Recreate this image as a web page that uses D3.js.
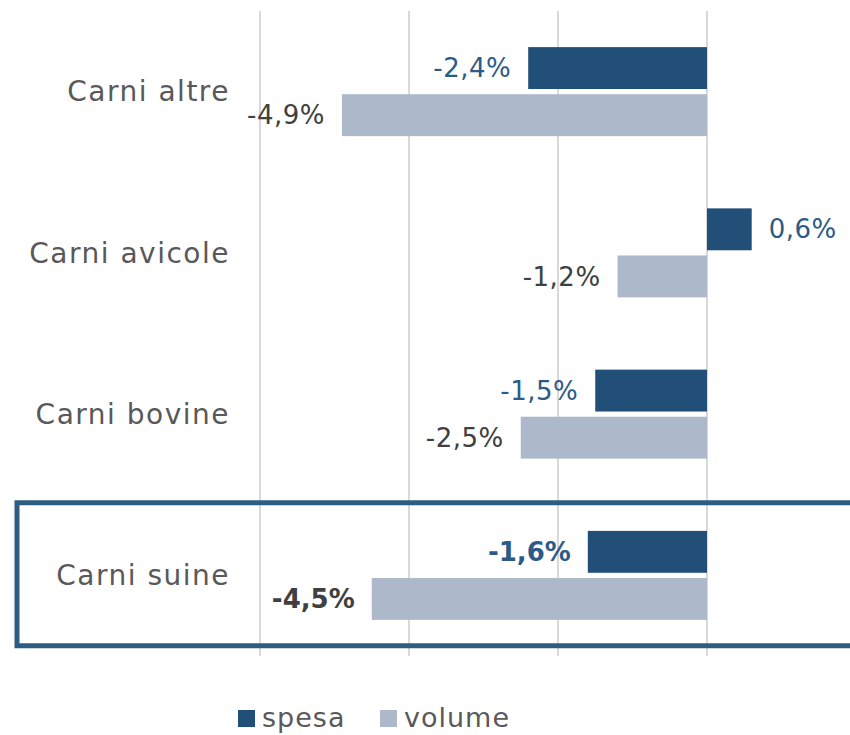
<!DOCTYPE html>
<html>
<head>
<meta charset="utf-8">
<script src="https://cdn.jsdelivr.net/npm/d3@7"></script>
<style>
  body { margin: 0; background: #fff; }
  text { font-family: "DejaVu Sans", sans-serif; }
</style>
</head>
<body>
<svg id="chart"></svg>
<script>
// Data
const categories = ["Carni altre", "Carni avicole", "Carni bovine", "Carni suine"];
const spesa = [-2.4, 0.6, -1.5, -1.6];
const volume = [-4.9, -1.2, -2.5, -4.5];
const seriesNames = ["spesa", "volume"];
const gridTicks = [-6, -4, -2, 0];
const highlighted = "Carni suine";

const colors = { spesa: "#214F78", volume: "#ADB9CA" };
const labelColors = { spesa: "#2D5B88", volume: "#404040" };

const width = 850, height = 735;
const margin = { top: 11, bottom: 79, left: 260 };

const svg = d3.select("#chart")
    .attr("width", width)
    .attr("height", height);

// Scales
const x = d3.scaleLinear()
    .domain([-6, 2])
    .range([margin.left, 856]);

const y = d3.scaleBand()
    .domain(categories)
    .range([margin.top, height - margin.bottom]);

const inner = d3.scaleBand()
    .domain(seriesNames)
    .range([0, 89])
    .paddingInner(0.11);

const offset = (y.bandwidth() - 89) / 2;

// Gridlines
svg.append("g")
   .selectAll("line")
   .data(gridTicks)
   .join("line")
   .attr("x1", d => x(d)).attr("x2", d => x(d))
   .attr("y1", margin.top).attr("y2", height - margin.bottom)
   .attr("stroke", "#D9D9D9")
   .attr("stroke-width", 2);

// Category labels
svg.append("g")
   .selectAll("text")
   .data(categories)
   .join("text")
   .attr("x", 230)
   .attr("y", d => y(d) + y.bandwidth() / 2)
   .attr("dy", "0.35em")
   .attr("text-anchor", "end")
   .attr("fill", "#595959")
   .attr("font-size", 28)
   .attr("letter-spacing", 1.5)
   .text(d => d);

// Bars
const rows = categories.map((c, i) => ({ cat: c, spesa: spesa[i], volume: volume[i] }));

seriesNames.forEach(s => {
    const g = svg.append("g");
    g.selectAll("rect")
     .data(rows)
     .join("rect")
     .attr("x", d => x(Math.min(0, d[s])))
     .attr("y", d => y(d.cat) + offset + inner(s))
     .attr("width", d => Math.abs(x(d[s]) - x(0)))
     .attr("height", inner.bandwidth())
     .attr("fill", colors[s]);

    g.selectAll("text")
     .data(rows)
     .join("text")
     .attr("x", d => d[s] < 0 ? x(d[s]) - 17 : x(d[s]) + 17)
     .attr("y", d => y(d.cat) + offset + inner(s) + inner.bandwidth() / 2)
     .attr("dy", "0.35em")
     .attr("text-anchor", d => d[s] < 0 ? "end" : "start")
     .attr("fill", labelColors[s])
     .attr("font-size", 26)
     .attr("letter-spacing", d => d.cat === highlighted ? 0 : 0.5)
     .attr("font-weight", d => d.cat === highlighted ? "bold" : "normal")
     .text(d => d3.format(".1f")(d[s]).replace(".", ",").replace("−", "-") + "%");
});

// Highlight box
svg.append("rect")
   .attr("x", 17)
   .attr("y", y(highlighted) + 8)
   .attr("width", 900)
   .attr("height", 143)
   .attr("fill", "none")
   .attr("stroke", "#2E5D84")
   .attr("stroke-width", 5);

// Legend
const legend = svg.append("g").attr("transform", "translate(238, 718)");
const legendX = [0, 142];
seriesNames.forEach((s, i) => {
    legend.append("rect")
          .attr("x", legendX[i]).attr("y", -8)
          .attr("width", 17).attr("height", 17)
          .attr("fill", colors[s]);
    legend.append("text")
          .attr("x", legendX[i] + 24).attr("y", 0)
          .attr("dy", "0.35em")
          .attr("fill", "#595959")
          .attr("font-size", 27)
          .attr("letter-spacing", 1)
          .text(s);
});
</script>
</body>
</html>
